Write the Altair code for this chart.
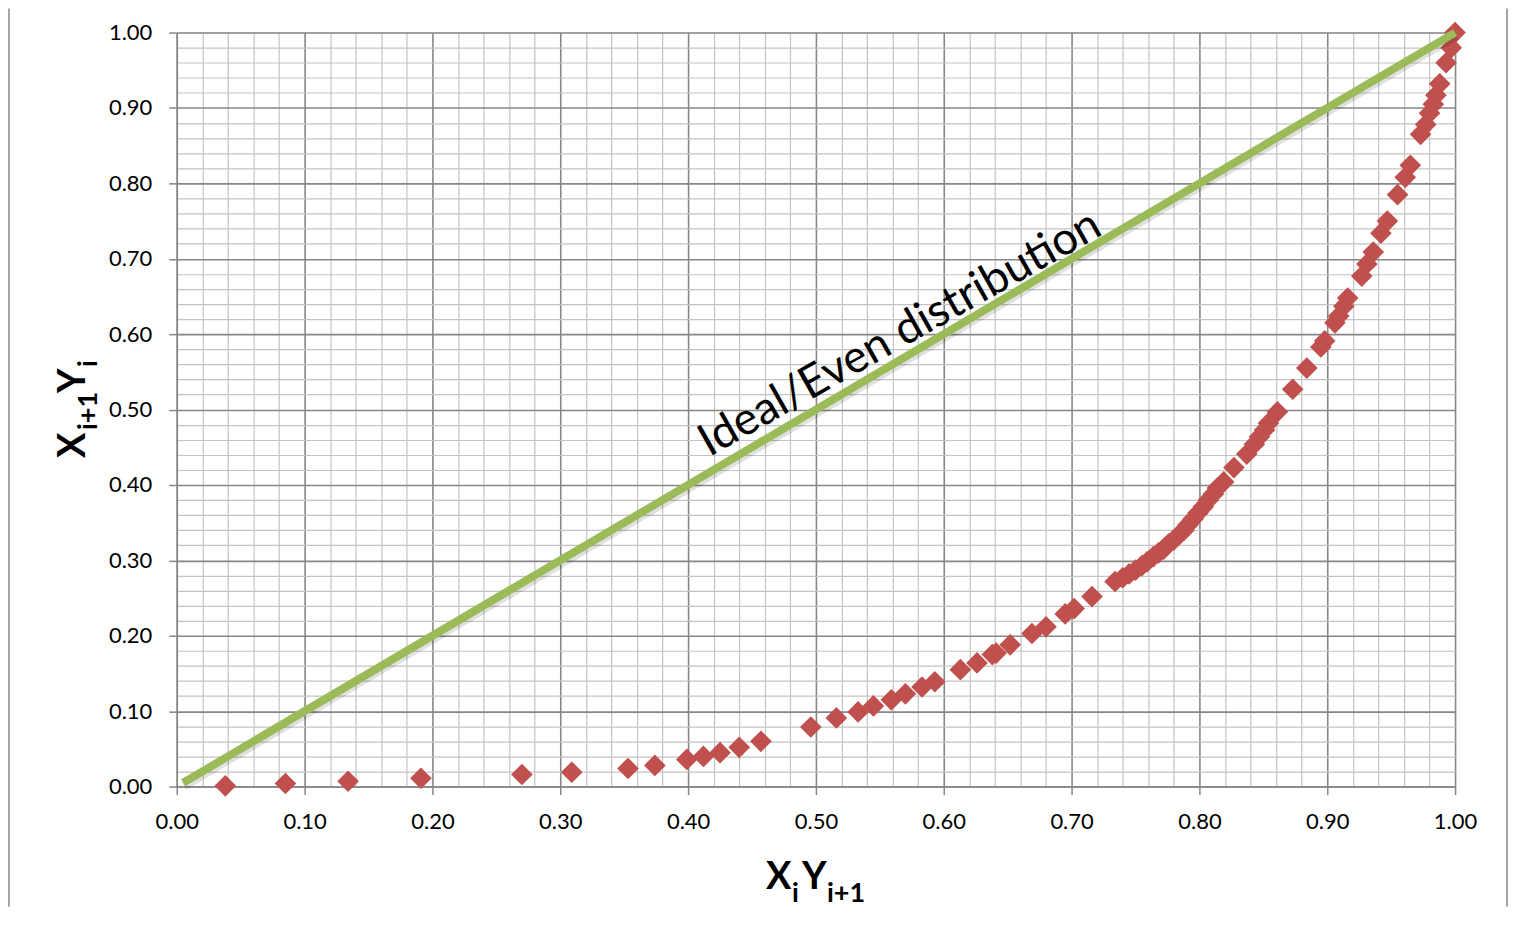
import altair as alt
import pandas as pd

x_vals = [0.038, 0.085, 0.134, 0.191, 0.270, 0.309, 0.353, 0.374, 0.399, 0.412,
          0.425, 0.440, 0.457, 0.496, 0.516, 0.533, 0.545, 0.559, 0.570, 0.583,
          0.593, 0.613, 0.626, 0.638, 0.641, 0.652, 0.669, 0.680, 0.695, 0.702,
          0.716, 0.734, 0.740, 0.745, 0.750, 0.755, 0.759, 0.764, 0.768, 0.772,
          0.776, 0.780, 0.784, 0.788, 0.791, 0.795, 0.799, 0.803, 0.807, 0.811,
          0.814, 0.819, 0.827, 0.837, 0.843, 0.847, 0.851, 0.854, 0.861, 0.873,
          0.884, 0.895, 0.898, 0.906, 0.909, 0.913, 0.916, 0.927, 0.931, 0.936,
          0.942, 0.947, 0.955, 0.961, 0.965, 0.973, 0.977, 0.980, 0.983, 0.985,
          0.988, 0.993, 0.997, 1.000]
y_vals = [0.001, 0.004, 0.007, 0.011, 0.016, 0.019, 0.024, 0.028, 0.036, 0.040,
          0.045, 0.052, 0.060, 0.079, 0.091, 0.099, 0.107, 0.115, 0.123, 0.132,
          0.139, 0.155, 0.164, 0.175, 0.177, 0.188, 0.203, 0.212, 0.229, 0.236,
          0.252, 0.272, 0.277, 0.282, 0.287, 0.293, 0.298, 0.305, 0.310, 0.315,
          0.322, 0.327, 0.334, 0.340, 0.347, 0.355, 0.363, 0.371, 0.380, 0.388,
          0.396, 0.404, 0.423, 0.441, 0.454, 0.464, 0.473, 0.482, 0.497, 0.527,
          0.555, 0.583, 0.591, 0.615, 0.624, 0.637, 0.648, 0.677, 0.693, 0.709,
          0.734, 0.750, 0.785, 0.808, 0.824, 0.865, 0.878, 0.893, 0.905, 0.917,
          0.932, 0.960, 0.980, 1.000]
ideal_x = [0.005, 1.0]
ideal_y = [0.005, 1.0]
label_text = ["Ideal/Even distribution"]
label_x = [0.571]
label_y = [0.585]
tick_values = [round(i * 0.02, 2) for i in range(51)]

pts = pd.DataFrame({"x": x_vals, "y": y_vals})
ideal = pd.DataFrame({"x": ideal_x, "y": ideal_y})
lab = pd.DataFrame({"x": label_x, "y": label_y, "t": label_text})
one = pd.DataFrame({"a": [0]})

MAJ = "abs(datum.value*10 - round(datum.value*10)) < 0.001"
FONT = "Lato"


def make_axis(pad):
    return alt.Axis(
        values=tick_values,
        title=None,
        labelExpr=f"({MAJ}) ? format(datum.value, '.2f') : ''",
        labelFont=FONT,
        labelFontSize=22,
        labelColor="black",
        labelOverlap=False,
        labelFlush=False,
        labelPadding=pad,
        tickSize=8,
        tickColor="#868686",
        tickWidth=1.5,
        tickOpacity={"condition": {"test": MAJ, "value": 1}, "value": 0},
        gridColor={"condition": {"test": MAJ, "value": "#878787"}, "value": "#C3C3C3"},
        gridWidth={"condition": {"test": MAJ, "value": 1.6}, "value": 1.2},
        gridOpacity=1,
        domainColor="#868686",
        domainWidth=1.5,
    )


X_AXIS = make_axis(17)
Y_AXIS = make_axis(17)
xs = alt.Scale(domain=[0, 1], nice=False, zero=False)
ys = alt.Scale(domain=[0, 1], nice=False, zero=False)


def xy():
    return dict(
        x=alt.X("x:Q", scale=xs, axis=X_AXIS),
        y=alt.Y("y:Q", scale=ys, axis=Y_AXIS),
    )


points = alt.Chart(pts).mark_point(
    shape="diamond", filled=True, size=470, color="#C0504D", opacity=1
).encode(**xy())

shadow = alt.Chart(ideal).mark_line(
    color="black", strokeWidth=9, opacity=0.12, xOffset=1, yOffset=3
).encode(**xy())

line = alt.Chart(ideal).mark_line(color="#9BBB59", strokeWidth=8).encode(**xy())

label = alt.Chart(lab).mark_text(
    font=FONT, fontSize=45.5, angle=330.5, align="center", baseline="alphabetic", color="black"
).encode(text="t:N", **xy())


def piece(txt, size, px, py, angle=0):
    kw = dict(text=txt, font=FONT, fontWeight="bold", fontSize=size,
              align="left", baseline="alphabetic", color="black")
    if angle:
        kw["angle"] = angle
    return alt.Chart(one).mark_text(**kw).encode(x=alt.value(px), y=alt.value(py))


titles = [
    piece("X", 38, 590, 858),
    piece("i", 27, 616, 871),
    piece("Y", 38, 626, 858),
    piece("i+1", 27, 651, 871),
    piece("X", 38, -92, 426, 270),
    piece("i+1", 27, -80, 398, 270),
    piece("Y", 38, -92, 361, 270),
    piece("i", 27, -80, 335, 270),
]

frame_l = alt.Chart(one).mark_rule(color="#868686", strokeWidth=1.5).encode(
    x=alt.value(-168), y=alt.value(-24), y2=alt.value(875)
)
frame_r = alt.Chart(one).mark_rule(color="#868686", strokeWidth=1.5).encode(
    x=alt.value(1332), y=alt.value(-24), y2=alt.value(875)
)

chart = alt.layer(points, shadow, line, label, *titles, frame_l, frame_r).properties(
    width=1280,
    height=755,
    padding={"left": 169, "top": 24, "right": 54, "bottom": 120},
    autosize=alt.AutoSizeParams(type="none"),
).configure_view(stroke="transparent").configure(background="white")

chart.save("out.html", embed_options={"renderer": "svg", "actions": False})
